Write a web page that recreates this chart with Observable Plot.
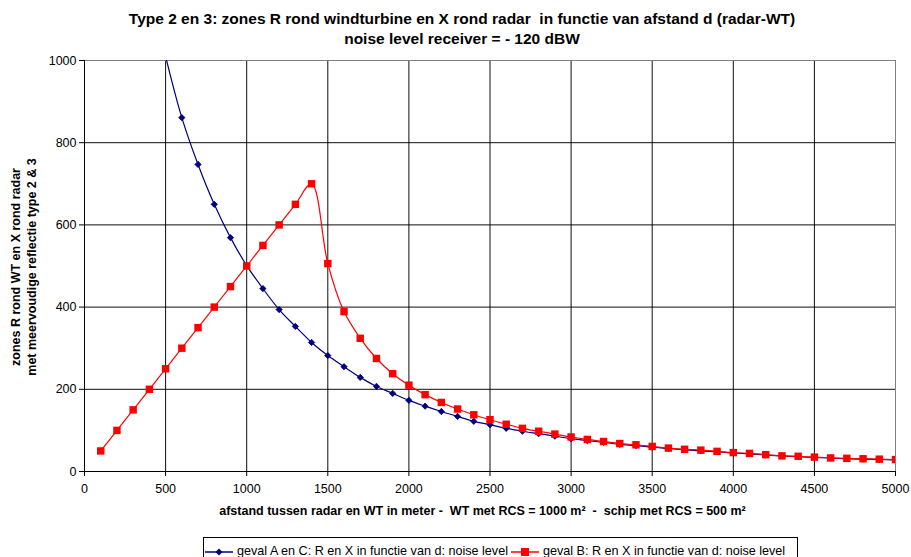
<!DOCTYPE html>
<html>
<head>
<meta charset="utf-8">
<script src="https://cdn.jsdelivr.net/npm/d3@7"></script>
<script src="https://cdn.jsdelivr.net/npm/@observablehq/plot@0.6"></script>
<style>
  html, body { margin: 0; padding: 0; background: #fff; }
  #wrap { position: relative; width: 911px; height: 557px; overflow: hidden; font-family: "Liberation Sans", Arial, sans-serif; color: #000; }
  #wrap > svg { position: absolute; left: 0; top: 0; }
  .title { position: absolute; left: 0; width: 924px; text-align: center; font-weight: bold; font-size: 15.5px; line-height: 18px; white-space: pre; }
  .xlab { position: absolute; left: 77px; width: 811px; top: 504px; text-align: center; font-weight: bold; font-size: 12.5px; white-space: pre; }
  #legend { position: absolute; left: 203px; top: 537px; width: 595px; height: 24px; border: 1px solid #000; box-sizing: border-box; display: flex; align-items: flex-start; padding-top: 6px; padding-left: 1px; font-size: 12.6px; line-height: 15px; background: #fff; }
  .item { display: flex; align-items: center; margin-right: 3px; white-space: pre; }
  .item svg { position: static; margin-right: 4px; }
</style>
</head>
<body>
<div id="wrap"></div>
<script>
// ---- data ----
const titleLines = [
  "Type 2 en 3: zones R rond windturbine en X rond radar  in functie van afstand d (radar-WT)",
  "noise level receiver = - 120 dBW"
];
const xLabel = "afstand tussen radar en WT in meter -  WT met RCS = 1000 m²  -  schip met RCS = 500 m²";
const yLabelLines = ["zones R rond WT en X rond radar", "met meervoudige reflectie type 2 & 3"];
const seriesNames = [
  "geval A en C: R en X in functie van d: noise level",
  "geval B: R en X in functie van d: noise level"
];
const seriesColors = ["#000080", "#FF0000"];
const xTicks = [0, 500, 1000, 1500, 2000, 2500, 3000, 3500, 4000, 4500, 5000];
const yTicks = [0, 200, 400, 600, 800, 1000];

const distA = [500, 600, 700, 800, 900, 1000, 1100, 1200, 1300, 1400, 1500, 1600, 1700, 1800, 1900, 2000,
  2100, 2200, 2300, 2400, 2500, 2600, 2700, 2800, 2900, 3000, 3100, 3200, 3300, 3400, 3500,
  3600, 3700, 3800, 3900, 4000, 4100, 4200, 4300, 4400, 4500, 4600, 4700, 4800, 4900, 5000];
const valuesA = [1010, 861, 747, 650, 569, 501, 445, 394, 353, 314, 282, 255, 229, 207, 190, 173,
  159, 146, 134, 122, 114, 105, 98, 92, 86, 80, 75, 71, 66, 63, 59,
  56, 53, 50, 48, 45, 43, 40, 38, 36, 34, 33, 31, 30, 29, 28];

const distB = [100, 200, 300, 400, 500, 600, 700, 800, 900, 1000, 1100, 1200, 1300, 1400, 1500, 1600, 1700, 1800, 1900, 2000,
  2100, 2200, 2300, 2400, 2500, 2600, 2700, 2800, 2900, 3000, 3100, 3200, 3300, 3400, 3500,
  3600, 3700, 3800, 3900, 4000, 4100, 4200, 4300, 4400, 4500, 4600, 4700, 4800, 4900, 5000];
const valuesB = [50, 100, 150, 200, 250, 300, 350, 400, 450, 500, 550, 600, 650, 700, 506, 389, 324, 275, 238, 210,
  187, 168, 152, 138, 126, 115, 105, 98, 91, 84, 78, 73, 68, 65, 61,
  57, 54, 52, 49, 46, 44, 41, 38, 37, 35, 33, 32, 31, 30, 29];

// ---- build ----
const A = distA.map((d, i) => ({d, v: valuesA[i]}));
const B = distB.map((d, i) => ({d, v: valuesB[i]}));
const fmt = d => String(d);

const wrap = document.getElementById("wrap");

const chart = Plot.plot({
  width: 911,
  height: 557,
  marginTop: 60,
  marginBottom: 86,
  marginLeft: 84,
  marginRight: 16,
  style: {fontFamily: "'Liberation Sans', Arial, sans-serif", fontSize: "12.5px", background: "transparent", color: "#000"},
  x: {domain: [0, 5000]},
  y: {domain: [0, 1000]},
  marks: [
    Plot.gridX(xTicks, {stroke: "#000", strokeOpacity: 0.95, strokeWidth: 1}),
    Plot.gridY(yTicks, {stroke: "#000", strokeOpacity: 0.95, strokeWidth: 1}),
    Plot.frame({stroke: "#808080"}),
    Plot.ruleX([0], {stroke: "#000"}),
    Plot.ruleY([0], {stroke: "#000"}),
    Plot.axisX(xTicks, {tickSize: 5, tickPadding: 8, label: null, fontSize: 12.5, tickFormat: fmt, stroke: "#000"}),
    Plot.axisY(yTicks, {tickSize: 5, tickPadding: 3, label: null, fontSize: 12.5, tickFormat: fmt, stroke: "#000"}),
    Plot.line(A, {x: "d", y: "v", stroke: seriesColors[0], strokeWidth: 1.2, curve: "catmull-rom", clip: true}),
    Plot.dot(A, {x: "d", y: "v", symbol: "square", r: 2.5, rotate: 45, fill: seriesColors[0], stroke: seriesColors[0], strokeWidth: 0.8, clip: true}),
    Plot.line(B, {x: "d", y: "v", stroke: seriesColors[1], strokeWidth: 1.2, curve: "catmull-rom", clip: true}),
    Plot.dot(B, {x: "d", y: "v", symbol: "square", r: 4.2, fill: seriesColors[1], clip: true})
  ]
});
wrap.appendChild(chart);

// titles
titleLines.forEach((t, i) => {
  const el = document.createElement("div");
  el.className = "title";
  el.style.top = (10 + i * 20) + "px";
  el.textContent = t;
  wrap.appendChild(el);
});

const xl = document.createElement("div");
xl.className = "xlab";
xl.textContent = xLabel;
wrap.appendChild(xl);

// y label (rotated, two lines)
const ysvg = d3.create("svg").attr("width", 60).attr("height", 557)
  .style("position", "absolute").style("left", "0px").style("top", "0px");
yLabelLines.forEach((t, i) => {
  const cx = 16 + i * 16, cy = 267;
  ysvg.append("text")
    .attr("transform", `translate(${cx},${cy}) rotate(-90)`)
    .attr("text-anchor", "middle")
    .attr("dy", "0.35em")
    .attr("font-family", "'Liberation Sans', Arial, sans-serif")
    .attr("font-weight", "bold")
    .attr("font-size", 12.5)
    .text(t);
});
wrap.appendChild(ysvg.node());

// legend
const legend = document.createElement("div");
legend.id = "legend";
seriesNames.forEach((name, i) => {
  const item = document.createElement("div");
  item.className = "item";
  const s = d3.create("svg").attr("width", 28).attr("height", 12);
  s.append("line").attr("x1", 0).attr("x2", 28).attr("y1", 6).attr("y2", 6)
    .attr("stroke", seriesColors[i]).attr("stroke-width", 1.5);
  if (i === 0) {
    s.append("rect").attr("x", 11.5).attr("y", 3.5).attr("width", 5).attr("height", 5)
      .attr("transform", "rotate(45 14 6)").attr("fill", seriesColors[i]);
  } else {
    s.append("rect").attr("x", 10).attr("y", 2).attr("width", 8).attr("height", 8)
      .attr("fill", seriesColors[i]);
  }
  item.appendChild(s.node());
  const tx = document.createElement("span");
  tx.textContent = name;
  item.appendChild(tx);
  legend.appendChild(item);
});
wrap.appendChild(legend);
</script>
</body>
</html>
